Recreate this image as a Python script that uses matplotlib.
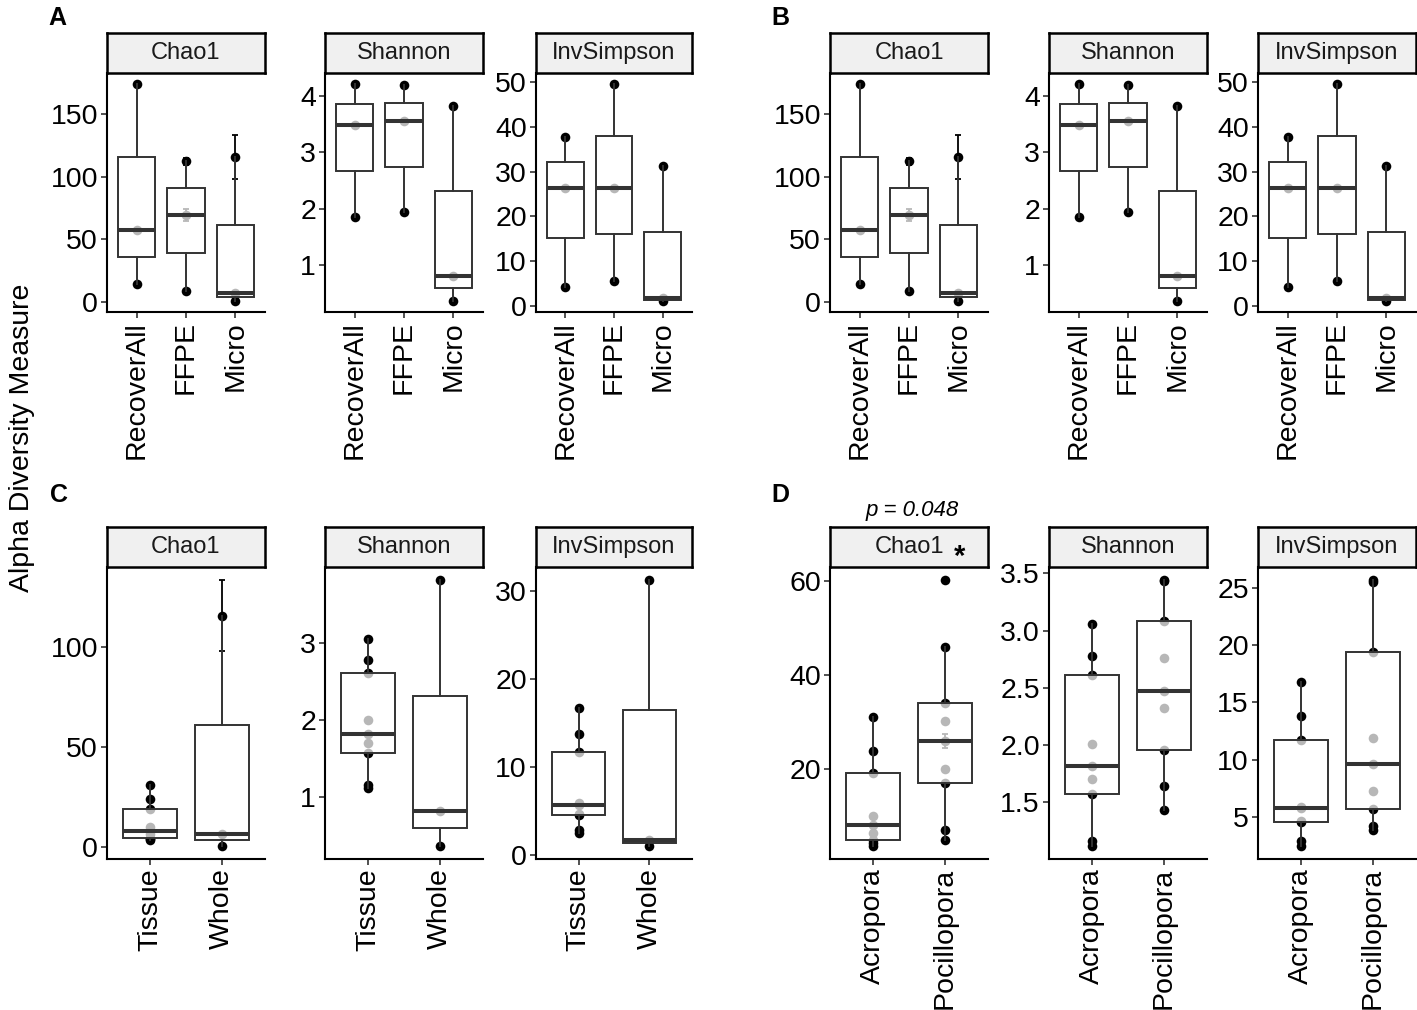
import matplotlib
matplotlib.use("Agg")
import matplotlib.pyplot as plt
import numpy as np

plt.rcParams['font.family'] = ['Liberation Sans', 'DejaVu Sans']

# ---------------- data ----------------
measures = ["Chao1", "Shannon", "InvSimpson"]

cats_method = ["RecoverAll", "FFPE", "Micro"]
chao1_recoverall = [14.4, 57.4, 173.8]
chao1_ffpe = [8.5, 69.4, 112.0]
chao1_micro = [0.8, 6.9, 115.6]
chao1_recoverall_se = [0.0, 0.0, 0.0]
chao1_ffpe_se = [0.0, 4.8, 2.6]
chao1_micro_se = [0.0, 0.0, 17.7]
shannon_recoverall = [1.86, 3.49, 4.21]
shannon_ffpe = [1.94, 3.55, 4.19]
shannon_micro = [0.37, 0.82, 3.82]
invsimpson_recoverall = [4.2, 26.4, 37.8]
invsimpson_ffpe = [5.7, 26.3, 49.6]
invsimpson_micro = [1.1, 1.8, 31.25]

cats_type = ["Tissue", "Whole"]
chao1_tissue = [3.7, 4.2, 4.9, 6.5, 8.2, 10.1, 19.1, 23.9, 31.0]
chao1_whole = [0.8, 6.9, 115.6]
chao1_tissue_se = [0, 0, 0, 0, 0, 0, 0, 0, 0]
chao1_whole_se = [0.0, 0.0, 17.7]
shannon_tissue = [1.12, 1.16, 1.57, 1.70, 1.82, 2.01, 2.61, 2.78, 3.06]
shannon_whole = [0.37, 0.82, 3.82]
invsimpson_tissue = [2.5, 2.9, 4.55, 4.65, 5.75, 5.9, 11.75, 13.84, 16.76]
invsimpson_whole = [1.1, 1.8, 31.25]

cats_genus = ["Acropora", "Pocillopora"]
chao1_acropora = [3.7, 4.2, 4.9, 6.5, 8.0, 10.1, 19.1, 23.9, 31.0]
chao1_pocillopora = [5.0, 7.1, 17.1, 19.9, 26.0, 30.1, 34.0, 46.0, 60.1]
chao1_acropora_se = [0, 0, 0, 0, 0, 0, 0, 0, 0]
chao1_pocillopora_se = [0, 0, 0, 0, 1.5, 0, 0, 0, 0]
shannon_acropora = [1.12, 1.16, 1.57, 1.70, 1.82, 2.01, 2.61, 2.78, 3.06]
shannon_pocillopora = [1.43, 1.64, 1.96, 2.32, 2.47, 2.76, 3.08, 3.43, 3.44]
invsimpson_acropora = [2.5, 2.89, 4.55, 4.65, 5.75, 5.9, 11.75, 13.84, 16.76]
invsimpson_pocillopora = [3.9, 4.18, 5.7, 7.26, 9.65, 11.9, 19.4, 25.5, 25.66]

ticks_method = [[0, 50, 100, 150], [1, 2, 3, 4], [0, 10, 20, 30, 40, 50]]
ticks_type = [[0, 50, 100], [1, 2, 3], [0, 10, 20, 30]]
ticks_genus = [[20, 40, 60], [1.5, 2.0, 2.5, 3.0, 3.5], [5, 10, 15, 20, 25]]

p_label = "p = 0.048"

# --------------- layout ----------------
W, H = 1417, 1010
fig = plt.figure(figsize=(W / 100, H / 100), dpi=100)


def px_axes(x0, y0, x1, y1):
    return fig.add_axes([x0 / W, 1 - y1 / H, (x1 - x0) / W, (y1 - y0) / H])


col_left = [(107, 265), (325, 483), (536, 692)]
col_right = [(830, 988), (1049, 1207), (1258, 1416)]
row_top = (33, 73, 312)
row_bot = (527, 567, 859)

method_groups = [
    ([chao1_recoverall, chao1_ffpe, chao1_micro], [chao1_recoverall_se, chao1_ffpe_se, chao1_micro_se]),
    ([shannon_recoverall, shannon_ffpe, shannon_micro], None),
    ([invsimpson_recoverall, invsimpson_ffpe, invsimpson_micro], None),
]
type_groups = [
    ([chao1_tissue, chao1_whole], [chao1_tissue_se, chao1_whole_se]),
    ([shannon_tissue, shannon_whole], None),
    ([invsimpson_tissue, invsimpson_whole], None),
]
genus_groups = [
    ([chao1_acropora, chao1_pocillopora], [chao1_acropora_se, chao1_pocillopora_se]),
    ([shannon_acropora, shannon_pocillopora], None),
    ([invsimpson_acropora, invsimpson_pocillopora], None),
]

EDGE = '#333333'


def fmt_ticks(ticks):
    if all(float(t).is_integer() for t in ticks):
        return ["%d" % t for t in ticks]
    return ["%.1f" % t for t in ticks]


def facet(xr, row, groups, ses, cats, ticks, title):
    x0, x1 = xr
    ax = px_axes(x0, row[1], x1, row[2])
    n = len(groups)
    pos = np.arange(1, n + 1)
    lo, hi = np.inf, -np.inf
    for i, vals in enumerate(groups):
        v = np.asarray(vals, float)
        se = np.asarray(ses[i], float) if ses is not None else np.zeros_like(v)
        lo = min(lo, (v - se).min())
        hi = max(hi, (v + se).max())
        ax.scatter(np.full(len(v), pos[i]), v, s=48, color='black',
                   linewidths=0, zorder=2)
        m = se > 0
        if m.any():
            ax.errorbar(np.full(m.sum(), pos[i]), v[m], yerr=se[m], fmt='none',
                        ecolor='black', elinewidth=1.3, capsize=2.5,
                        capthick=1.3, zorder=2)
    ax.boxplot(groups, positions=pos, widths=0.75, patch_artist=True,
               showfliers=False, whis=1.5, showcaps=False,
               boxprops=dict(facecolor=(1, 1, 1, 0.72), edgecolor=EDGE, linewidth=1.4),
               medianprops=dict(color=EDGE, linewidth=2.9),
               whiskerprops=dict(color=EDGE, linewidth=1.4),
               zorder=3)
    pad = 0.05 * (hi - lo)
    ax.set_ylim(lo - pad, hi + pad)
    ax.set_xlim(0.4, n + 0.6)
    ax.set_yticks(ticks)
    ax.set_yticklabels(fmt_ticks(ticks))
    ax.set_xticks(pos)
    ax.set_xticklabels(cats, rotation=90)
    for s in ('top', 'right'):
        ax.spines[s].set_visible(False)
    for s in ('left', 'bottom'):
        ax.spines[s].set_linewidth(1.5)
        ax.spines[s].set_color('black')
    ax.tick_params(axis='both', length=4.5, width=1.2, color=EDGE,
                   labelsize=20.5, labelcolor='black', pad=2)
    ax.set_facecolor('white')
    # strip
    sax = px_axes(x0, row[0], x1, row[1])
    sax.set_facecolor('#F0F0F0')
    sax.set_xticks([])
    sax.set_yticks([])
    for s in sax.spines.values():
        s.set_linewidth(1.8)
        s.set_color('black')
    sax.text(0.5, 0.5, title, ha='center', va='center', fontsize=17,
             color='#1A1A1A', transform=sax.transAxes)
    return ax


for k in range(3):
    facet(col_left[k], row_top, method_groups[k][0], method_groups[k][1],
          cats_method, ticks_method[k], measures[k])
    facet(col_right[k], row_top, method_groups[k][0], method_groups[k][1],
          cats_method, ticks_method[k], measures[k])
    facet(col_left[k], row_bot, type_groups[k][0], type_groups[k][1],
          cats_type, ticks_type[k], measures[k])
    facet(col_right[k], row_bot, genus_groups[k][0], genus_groups[k][1],
          cats_genus, ticks_genus[k], measures[k])

# panel letters
for lab, x, y in [("A", 48, 25), ("B", 771, 25), ("C", 50, 502), ("D", 771, 502)]:
    fig.text(x / W, 1 - y / H, lab, fontsize=18, fontweight='bold',
             ha='left', va='baseline')

fig.text(22 / W, 1 - 438 / H, "Alpha Diversity Measure", rotation=90,
         ha='center', va='center', fontsize=20.5)

fig.text(912 / W, 1 - 516 / H, p_label, style='italic', fontsize=16,
         ha='center', va='baseline')
fig.text(960 / W, 1 - 565 / H, "*", fontsize=21, fontweight='bold',
         ha='center', va='baseline')

fig.savefig("out.png", dpi=100, facecolor='white')
